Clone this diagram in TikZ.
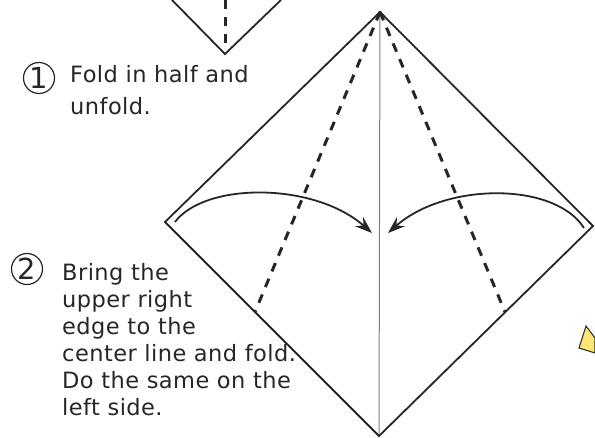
\documentclass[tikz,border=0pt]{standalone}
\usepackage{fontspec}
\setmainfont{DejaVu Sans}[LetterSpace=2]
\usetikzlibrary{arrows.meta}
\begin{document}
\begin{tikzpicture}[x=1pt,y=-1pt,
  edge/.style={line width=1.8pt, draw=black!85, line join=miter},
  crease/.style={line width=1pt, draw=black!50},
  valley/.style={line width=3pt, draw=black!85, dash pattern=on 9pt off 8pt},
  foldarrow/.style={line width=1.8pt, draw=black!85, -{Stealth[length=17pt,width=12pt]}},
  txt/.style={anchor=base west, inner sep=0pt, font=\fontsize{22.5}{27}\selectfont, text=black!85},
  num/.style={circle, draw=black!85, line width=1.2pt, minimum size=31pt, inner sep=0pt, font=\fontsize{29}{30}\selectfont, text=black!85}]
\useasboundingbox (0,0) rectangle (595,437);
% previous step (top, cut off)
\coordinate (s1) at (172,0);
\coordinate (sb) at (225,54);
\coordinate (s2) at (281,0);
\coordinate (sd1) at (225,0);
\coordinate (sd2) at (225,46);
\draw[edge] (s1) -- (sb) -- (s2);
\draw[valley] (sd1) -- (sd2);
% main square
\coordinate (T) at (380,12);
\coordinate (L) at (165,222);
\coordinate (B) at (379,436);
\coordinate (R) at (593,226);
\draw[crease] (T) -- (B);
\draw[edge] (T) -- (L) -- (B) -- (R) -- cycle;
\coordinate (dl) at (255,312);
\coordinate (dr) at (505,312);
\draw[valley] (T) -- (dl);
\draw[valley] (T) -- (dr);
% arrows
\coordinate (la) at (175,222);
\coordinate (lb) at (372,233);
\coordinate (ra) at (584,228);
\coordinate (rb) at (388,233);
\draw[foldarrow] (la) .. controls (205,182) and (314,182) .. (lb);
\draw[foldarrow] (ra) .. controls (555,182) and (446,182) .. (rb);
% next step (cut off)
\filldraw[fill=orange!35!yellow!55, draw=black!80, line width=1.1pt] (586,326) -- (579,348) -- (595,353) -- (595,338) -- cycle;
% texts
\node[num] (n1) at (39,78) {1};
\node[txt] (t1a) at (70,82) {Fold in half and};
\node[txt] (t1b) at (70,114) {unfold.};
\node[num] (n2) at (27,269) {2};
\node[txt] (t2a) at (62,280) {Bring the};
\node[txt] (t2b) at (62,307) {upper right};
\node[txt] (t2c) at (62,334) {edge to the};
\node[txt] (t2d) at (62,361) {center line and fold.};
\node[txt] (t2e) at (62,388) {Do the same on the};
\node[txt] (t2f) at (62,415) {left side.};
\end{tikzpicture}
\end{document}
